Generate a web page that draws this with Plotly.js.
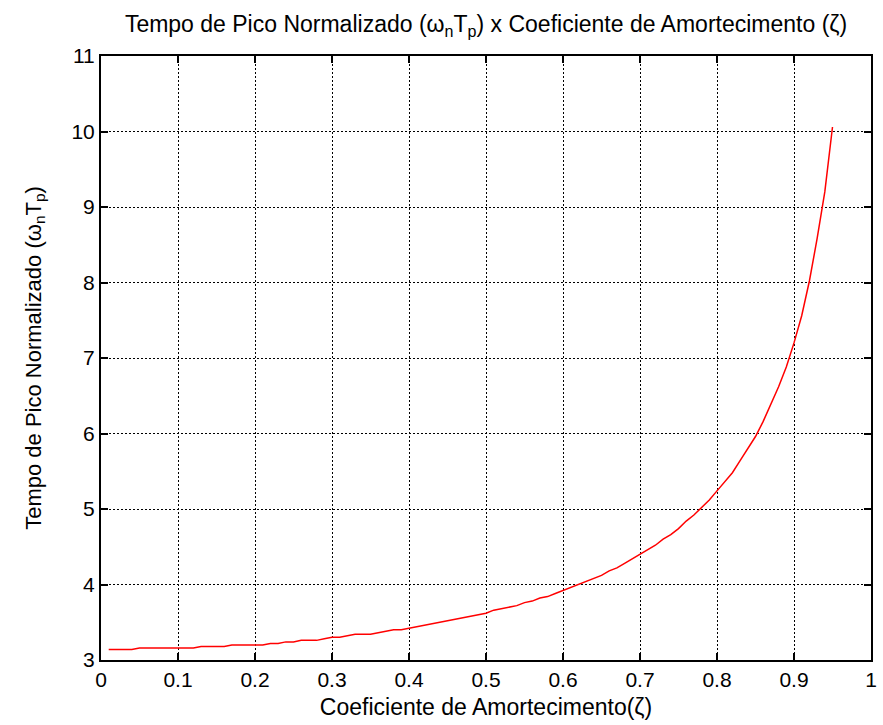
<!DOCTYPE html>
<html>
<head>
<meta charset="utf-8">
<script src="https://cdn.plot.ly/plotly-3.0.1.min.js"></script>
<style>html,body{margin:0;padding:0;background:#fff;}#chart{width:883px;height:725px;}</style>
</head>
<body>
<div id="chart"></div>
<script>
const zeta = [0.01,0.02,0.03,0.04,0.05,0.06,0.07,0.08,0.09,0.10,
  0.11,0.12,0.13,0.14,0.15,0.16,0.17,0.18,0.19,0.20,
  0.21,0.22,0.23,0.24,0.25,0.26,0.27,0.28,0.29,0.30,
  0.31,0.32,0.33,0.34,0.35,0.36,0.37,0.38,0.39,0.40,
  0.41,0.42,0.43,0.44,0.45,0.46,0.47,0.48,0.49,0.50,
  0.51,0.52,0.53,0.54,0.55,0.56,0.57,0.58,0.59,0.60,
  0.61,0.62,0.63,0.64,0.65,0.66,0.67,0.68,0.69,0.70,
  0.71,0.72,0.73,0.74,0.75,0.76,0.77,0.78,0.79,0.80,
  0.81,0.82,0.83,0.84,0.85,0.86,0.87,0.88,0.89,0.90,
  0.91,0.92,0.93,0.94,0.95];
const wnTp = [3.14,3.14,3.14,3.14,3.16,3.16,3.16,3.16,3.16,3.16,
  3.16,3.16,3.18,3.18,3.18,3.18,3.20,3.20,3.20,3.20,
  3.20,3.22,3.22,3.24,3.24,3.26,3.26,3.26,3.28,3.30,
  3.30,3.32,3.34,3.34,3.34,3.36,3.38,3.40,3.40,3.42,
  3.44,3.46,3.48,3.50,3.52,3.54,3.56,3.58,3.60,3.62,
  3.66,3.68,3.70,3.72,3.76,3.78,3.82,3.84,3.88,3.92,
  3.96,4.00,4.04,4.08,4.12,4.18,4.22,4.28,4.34,4.40,
  4.46,4.52,4.60,4.66,4.74,4.84,4.92,5.02,5.12,5.24,
  5.36,5.48,5.64,5.80,5.96,6.16,6.38,6.62,6.88,7.20,
  7.56,8.02,8.58,9.20,10.06];
const xTicks = [0,0.1,0.2,0.3,0.4,0.5,0.6,0.7,0.8,0.9,1];
const xTickText = ['0','0.1','0.2','0.3','0.4','0.5','0.6','0.7','0.8','0.9','1'];
const yTicks = [3,4,5,6,7,8,9,10,11];
const yTickText = ['3','4','5','6','7','8','9','10','11'];

const font = 'Liberation Sans, Arial, sans-serif';
const axisCommon = {
  showline: true, linecolor: '#000', linewidth: 2, mirror: 'ticks',
  ticks: 'inside', ticklen: 7, tickwidth: 2, tickcolor: '#000',
  showgrid: true, gridcolor: '#000', gridwidth: 1, griddash: '2px,2px',
  zeroline: false, tickfont: {family: font, size: 21, color: '#000'}
};
const layout = {
  width: 883, height: 725,
  margin: {l: 101, r: 12, t: 56, b: 65},
  paper_bgcolor: '#fff', plot_bgcolor: '#fff',
  showlegend: false,
  title: {text: 'Tempo de Pico Normalizado (ω<sub>n</sub>T<sub>p</sub>) x Coeficiente de Amortecimento (ζ)',
    font: {family: font, size: 23, color: '#000'}, x: 0.5, xref: 'paper', xanchor: 'center', y: 1 - 24/725, yanchor: 'middle', yref: 'container'},
  xaxis: Object.assign({}, axisCommon, {
    range: [0, 1], tickmode: 'array', tickvals: xTicks, ticktext: xTickText,
    title: {text: 'Coeficiente de Amortecimento(ζ)', font: {family: font, size: 23, color: '#000'}, standoff: 9}
  }),
  yaxis: Object.assign({}, axisCommon, {
    range: [3, 11], tickmode: 'array', tickvals: yTicks, ticktext: yTickText,
    title: {text: 'Tempo de Pico Normalizado (ω<sub>n</sub>T<sub>p</sub>)', font: {family: font, size: 22, color: '#000'}, standoff: 24}
  })
};
const trace = {x: zeta, y: wnTp, type: 'scatter', mode: 'lines', line: {color: '#ff0000', width: 1.5}};
Plotly.newPlot('chart', [trace], layout, {displayModeBar: false, staticPlot: true});
</script>
</body>
</html>
